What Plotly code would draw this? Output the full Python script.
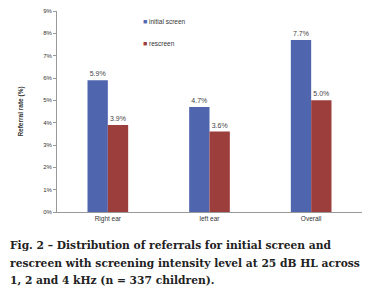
import plotly.graph_objects as go

categories = ["Right ear", "left ear", "Overall"]
initial_screen = [5.9, 4.7, 7.7]
rescreen = [3.9, 3.6, 5.0]
series_names = ["initial screen", "rescreen"]
y_ticks = [0, 1, 2, 3, 4, 5, 6, 7, 8, 9]
y_tick_labels = [f"{v}%" for v in y_ticks]
caption_lines = [
    "Fig. 2 \u2013 Distribution of referrals for initial screen and",
    "rescreen with screening intensity level at 25 dB HL across",
    "1, 2 and 4 kHz (n = 337 children).",
]

BLUE = "#4F65AE"
RED = "#9B3E3C"
colors = [BLUE, RED]

# the page body has an 8px margin, so the figure is drawn 8px smaller
PLOT_BOTTOM = 212   # page pixels
PLOT_H = 201
PLOT_LEFT = 57
PLOT_W = 305

fig = go.Figure()
for name, vals, col in zip(series_names, [initial_screen, rescreen], colors):
    fig.add_trace(go.Bar(
        x=categories, y=vals, name=name, showlegend=False,
        marker=dict(color=col, line=dict(width=0)),
        text=[f"{v:.1f}%" for v in vals], textposition="outside",
        textfont=dict(size=7, color="#444"), cliponaxis=False,
    ))

fig.update_layout(
    width=367, height=284,
    margin=dict(l=49, r=13, t=3, b=80, autoexpand=False),
    paper_bgcolor="white", plot_bgcolor="white",
    barmode="group", bargap=0.6, bargroupgap=0,
    font=dict(family="Liberation Sans", size=6, color="#333"),
    showlegend=False,
    xaxis=dict(showline=True, linecolor="#999", linewidth=1, ticks="",
               tickfont=dict(size=6.5, color="#333")),
    yaxis=dict(range=[0, 9], tickvals=y_ticks, ticktext=y_tick_labels,
               showline=True, linecolor="#999", linewidth=1, ticks="outside",
               ticklen=3, tickcolor="#999", showgrid=False, zeroline=False,
               tickfont=dict(size=6, color="#333"),
               title=dict(text="<b>Referral rate (%)</b>", font=dict(size=6.5, color="#333"), standoff=18)),
)

for name, col, py in zip(series_names, colors, [22, 43]):
    fig.add_annotation(text=f"<span style='color:{col}; font-size:7px'>\u25A0</span> {name}",
                       xref="paper", yref="paper", x=(141 - PLOT_LEFT) / PLOT_W,
                       y=(PLOT_BOTTOM - py) / PLOT_H,
                       xanchor="left", yanchor="middle", showarrow=False,
                       font=dict(size=6.5, color="#333"))

for line, py in zip(caption_lines, [246, 263, 280]):
    fig.add_annotation(text=f"<b>{line}</b>", xref="paper", yref="paper",
                       x=-49 / PLOT_W, y=(PLOT_BOTTOM - py) / PLOT_H, xanchor="left", yanchor="middle",
                       showarrow=False, align="left",
                       font=dict(family="DejaVu Serif", size=10.7, color="#222"))

fig.write_html("out.html")
